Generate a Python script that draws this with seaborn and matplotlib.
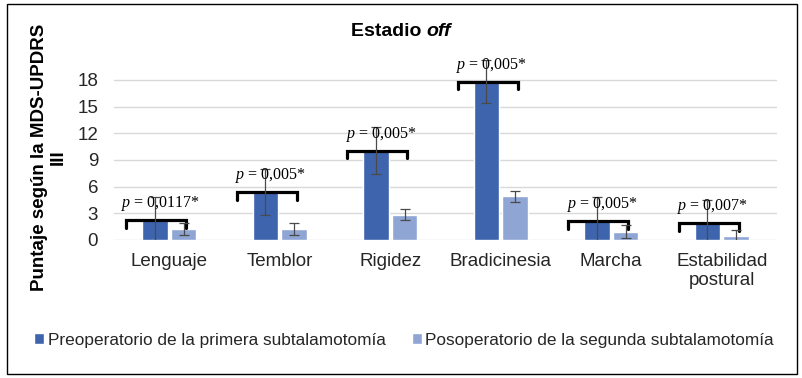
import matplotlib
matplotlib.use("Agg")
import matplotlib.pyplot as plt
import seaborn as sns
import pandas as pd
from matplotlib.patches import Rectangle

# ---- data ----
categorias = ["Lenguaje", "Temblor", "Rigidez", "Bradicinesia", "Marcha", "Estabilidad\npostural"]
grupos = ["Preoperatorio de la primera subtalamotomía", "Posoperatorio de la segunda subtalamotomía"]
pre_vals = [2.25, 5.4, 10.05, 17.8, 2.1, 1.9]
post_vals = [1.25, 1.25, 2.85, 4.9, 0.95, 0.4]
pre_err = [2.6, 2.6, 2.6, 2.4, 2.7, 2.55]
post_err = [0.7, 0.65, 0.6, 0.65, 0.7, 0.7]
p_labels = ["0,0117*", "0,005*", "0,005*", "0,005*", "0,005*", "0,007*"]
yticks = [0, 3, 6, 9, 12, 15, 18]

colores = ["#3E64AE", "#8FA5D4"]

sns.set_theme(style="white")
plt.rcParams["font.family"] = ["Liberation Sans", "DejaVu Sans"]
plt.rcParams["mathtext.fontset"] = "custom"
plt.rcParams["mathtext.it"] = "Liberation Serif:italic"
plt.rcParams["mathtext.rm"] = "Liberation Serif"

df = pd.DataFrame({
    "categoria": categorias * 2,
    "grupo": [grupos[0]] * len(categorias) + [grupos[1]] * len(categorias),
    "valor": pre_vals + post_vals,
})

W, H = 802, 378
fig = plt.figure(figsize=(W / 100, H / 100), dpi=100)
ax = fig.add_axes([114 / W, 138 / H, (777 - 114) / W, (240 - 55) / H])

sns.barplot(data=df, x="categoria", y="valor", hue="grupo", palette=colores,
            width=0.52, gap=0.11, errorbar=None, ax=ax, saturation=1)

# error bars
for cont, errs in zip(ax.containers, [pre_err, post_err]):
    xs = [b.get_x() + b.get_width() / 2 for b in cont]
    ys = [b.get_height() for b in cont]
    ax.errorbar(xs, ys, yerr=errs, fmt="none", ecolor="#4A4A4A",
                elinewidth=0.9, capsize=3.6, capthick=0.9, zorder=4)

ax.set_ylim(0, 20.8)
ax.set_yticks(yticks)
ax.set_xlim(-0.5, len(categorias) - 0.5)
ax.grid(axis="y", color="#D9D9D9", linewidth=1)
ax.set_axisbelow(True)
for s in ax.spines.values():
    s.set_visible(False)
ax.tick_params(axis="y", labelsize=13.5, pad=11.5, length=0, labelcolor="#262626")
ax.tick_params(axis="x", labelsize=13.5, pad=9, length=0, labelcolor="#262626")
ax.set_xlabel("")
ax.set_ylabel("")

# brackets and p-values
centros = ax.get_xticks()
for c, h, lab in zip(centros, pre_vals, p_labels):
    x0, x1 = c - 0.389, c + 0.154
    ax.plot([x0, x0, x1, x1], [h - 0.85, h, h, h - 0.85], color="black",
            linewidth=2.3, solid_joinstyle="miter", zorder=3, clip_on=False)
    ax.annotate(r"$\mathit{p}$ = " + lab, xy=((x0 + x1) / 2, h), xytext=(3, 5),
                textcoords="offset points", ha="center", va="bottom",
                fontsize=11.5, family="Liberation Serif", color="black", zorder=6)

# legend
handles, labels = ax.get_legend_handles_labels()
if ax.get_legend() is not None:
    ax.get_legend().remove()
fig.legend(handles, labels, loc="center", bbox_to_anchor=(404 / W, 38 / H),
           ncol=2, frameon=False, fontsize=12.4, handlelength=0.6, handleheight=0.6,
           handletextpad=0.2, columnspacing=1.5, labelcolor="#262626")

# y label
fig.text(49 / W, 1 - 157 / H, "Puntaje según la MDS-UPDRS\nIII", rotation=90,
         ha="center", va="center", multialignment="center", fontsize=13.5,
         fontweight="bold", linespacing=1.1, color="black")

# title
t1 = fig.text(351 / W, 1 - 36 / H, "Estadio ", ha="left", va="baseline",
              fontsize=14, fontweight="bold", color="black")
ax.annotate("off", xy=(1, 0), xycoords=t1, ha="left", va="bottom",
            fontsize=14, fontweight="bold", fontstyle="italic", color="black",
            annotation_clip=False)

# outer frame
fig.patches.append(Rectangle((7 / W, 4 / H), (797 - 7) / W, (374 - 4) / H,
                             transform=fig.transFigure, fill=False,
                             edgecolor="black", linewidth=1.0))

fig.savefig("out.png", dpi=100)
